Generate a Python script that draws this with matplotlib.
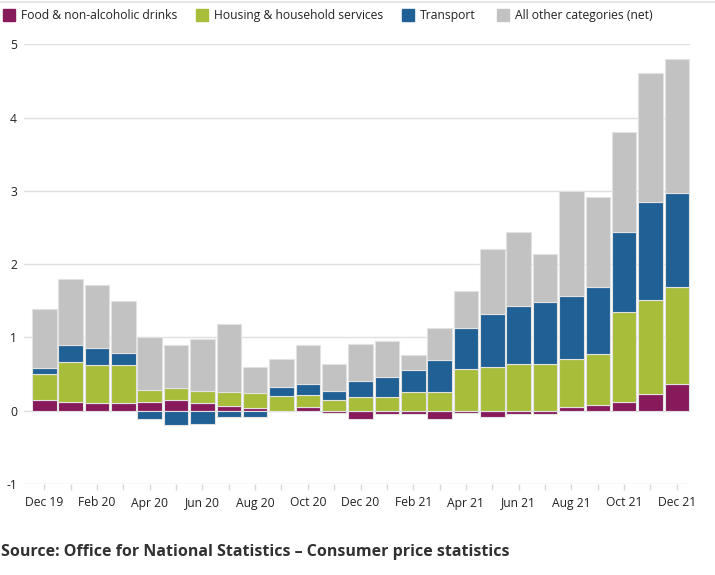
import numpy as np
import matplotlib
matplotlib.use("Agg")
import matplotlib.pyplot as plt
from matplotlib.patches import Rectangle
from matplotlib.lines import Line2D

plt.rcParams['font.family'] = ['Open Sans', 'DejaVu Sans']

months = ["Dec 19", "Jan 20", "Feb 20", "Mar 20", "Apr 20", "May 20", "Jun 20", "Jul 20",
          "Aug 20", "Sep 20", "Oct 20", "Nov 20", "Dec 20", "Jan 21", "Feb 21", "Mar 21",
          "Apr 21", "May 21", "Jun 21", "Jul 21", "Aug 21", "Sep 21", "Oct 21", "Nov 21", "Dec 21"]

food = [0.15, 0.12, 0.11, 0.11, 0.12, 0.15, 0.11, 0.07, 0.04, 0.00, 0.05, -0.03, -0.11,
        -0.04, -0.04, -0.11, -0.03, -0.09, -0.04, -0.04, 0.05, 0.08, 0.12, 0.23, 0.37]
housing = [0.35, 0.55, 0.52, 0.52, 0.16, 0.16, 0.16, 0.19, 0.20, 0.20, 0.16, 0.15, 0.19,
           0.19, 0.25, 0.25, 0.57, 0.60, 0.64, 0.64, 0.66, 0.70, 1.23, 1.28, 1.32]
transport = [0.08, 0.23, 0.23, 0.16, -0.11, -0.19, -0.18, -0.08, -0.09, 0.12, 0.15, 0.12, 0.22,
             0.27, 0.30, 0.44, 0.56, 0.72, 0.79, 0.85, 0.86, 0.91, 1.09, 1.34, 1.28]
other = [0.81, 0.90, 0.85, 0.71, 0.72, 0.59, 0.71, 0.93, 0.36, 0.38, 0.53, 0.37, 0.50,
         0.49, 0.21, 0.44, 0.50, 0.89, 1.01, 0.65, 1.43, 1.22, 1.37, 1.76, 1.83]

series = [("Food & non-alcoholic drinks", food, "#871a5b"),
          ("Housing & household services", housing, "#a8bd3a"),
          ("Transport", transport, "#206095"),
          ("All other categories (net)", other, "#c2c2c2")]

W, H = 715, 575
fig = plt.figure(figsize=(W / 100, H / 100), dpi=100)
ax = fig.add_axes([24 / W, (H - 484) / H, (690 - 24) / W, (484 - 44.3) / H])

x = np.arange(len(months))
pos_base = np.zeros(len(months))
neg_base = np.zeros(len(months))
for name, vals, col in series:
    v = np.array(vals)
    bottom = np.where(v >= 0, pos_base, neg_base)
    ax.bar(x, v, bottom=bottom, width=0.93, color=col, edgecolor="#e2e2e2",
           linewidth=0.8, zorder=3)
    pos_base = pos_base + np.where(v >= 0, v, 0)
    neg_base = neg_base + np.where(v < 0, v, 0)

ax.set_xlim(-0.77, 24.5)
ax.set_ylim(-1, 5)
ax.set_yticks(range(-1, 6))
ax.set_yticklabels([str(t) for t in range(-1, 6)], fontsize=8.7, color="#222222")
ax.yaxis.grid(True, color="#e0e0e0", linewidth=1.0, zorder=0)
ax.set_axisbelow(True)
for s in ax.spines.values():
    s.set_visible(False)
ax.tick_params(axis="y", length=0, pad=5)
ax.set_xticks(x)
ax.set_xticklabels([m if i % 2 == 0 else "" for i, m in enumerate(months)],
                   fontsize=8.7, color="#222222")
ax.tick_params(axis="x", length=4, width=1, color="#d9d9d9", pad=5)

# top rule
fig.add_artist(Line2D([0, 1], [1 - 2 / H, 1 - 2 / H], color="#e0e0e0", linewidth=1.2,
                      transform=fig.transFigure))

# legend
leg_x = [3, 196, 402, 497]
for (name, vals, col), lx in zip(series, leg_x):
    fig.add_artist(Rectangle((lx / W, 1 - 21 / H), 12 / W, 12 / H, color=col,
                             transform=fig.transFigure))
    fig.text((lx + 18) / W, 1 - 15.5 / H, name, fontsize=8.7, color="#222222",
             va="center", ha="left")

fig.text(1 / W, 1 - 551.5 / H, "Source: Office for National Statistics \u2013 Consumer price statistics",
         fontsize=11.5, fontweight="bold", color="#323132", va="center", ha="left")

fig.savefig("out.png", dpi=100)
